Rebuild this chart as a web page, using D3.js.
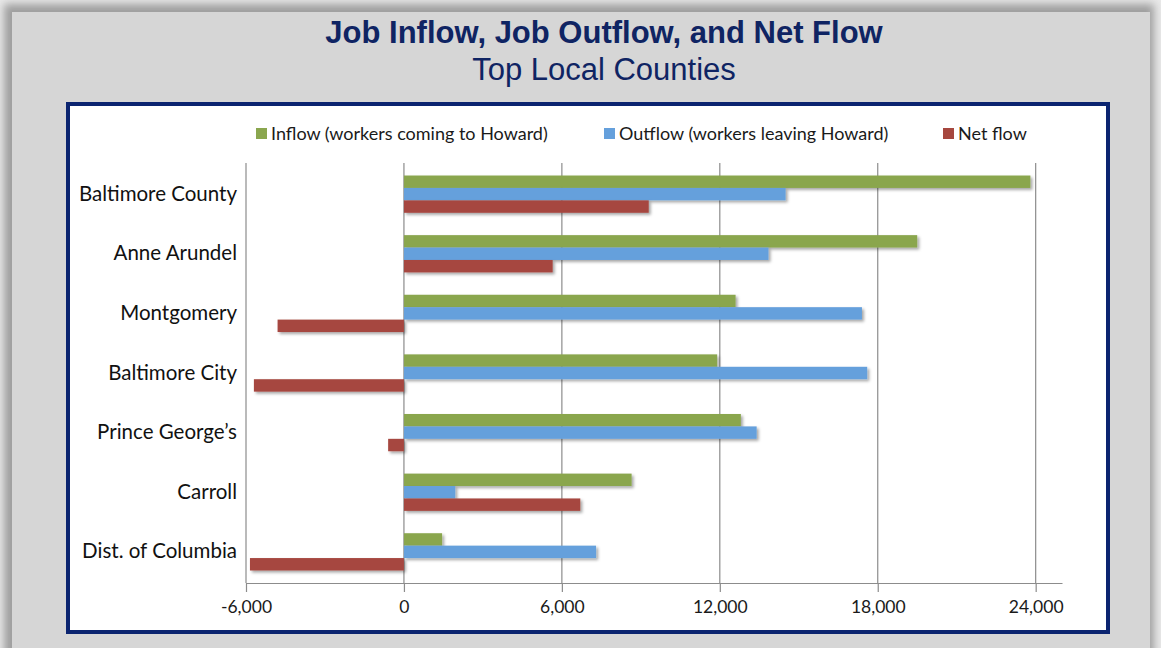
<!DOCTYPE html>
<html lang="en">
<head>
	<meta charset="UTF-8">
	<title>Job Inflow, Job Outflow, and Net Flow</title>
	<style>
		body { margin: 0; background: #e9e9e9; }
		svg { display: block; }
	</style>
</head>
<body>
	<script src="https://d3js.org/d3.v7.min.js"></script>
	<script type="text/javascript">
		var width = 1161;
		var height = 648;

		// data
		var categories = ["Baltimore County", "Anne Arundel", "Montgomery", "Baltimore City", "Prince George\u2019s", "Carroll", "Dist. of Columbia"];
		var inflow  = [23800, 19500, 12600, 11900, 12800, 8650, 1450];
		var outflow = [14500, 13850, 17400, 17600, 13400, 1950, 7300];
		var netflow = [9300, 5650, -4800, -5700, -600, 6700, -5850];
		var seriesNames = ["Inflow (workers coming to Howard)", "Outflow (workers leaving Howard)", "Net flow"];
		var seriesColors = ["#8aa64e", "#65a0dc", "#a6473f"];
		var tickValues = [-6000, 0, 6000, 12000, 18000, 24000];

		var series = [inflow, outflow, netflow];

		var svg = d3.select("body").append("svg").attr("width", width).attr("height", height);

		var defs = svg.append("defs");
		defs.append("filter").attr("id", "panelShadow")
			.attr("x", "-5%").attr("y", "-5%").attr("width", "110%").attr("height", "110%")
			.append("feGaussianBlur").attr("stdDeviation", 4);
		var barShadow = defs.append("filter").attr("id", "barShadow")
			.attr("x", "-10%").attr("y", "-30%").attr("width", "130%").attr("height", "190%");
		barShadow.append("feDropShadow")
			.attr("dx", 2).attr("dy", 2).attr("stdDeviation", 1.5)
			.attr("flood-color", "#000").attr("flood-opacity", 0.35);

		// grey panel with its shadow
		svg.append("rect").attr("x", 4).attr("y", 4).attr("width", 1150).attr("height", 670)
			.attr("fill", "#9e9e9e").attr("filter", "url(#panelShadow)");
		svg.append("rect").attr("x", 12).attr("y", 12).attr("width", 1138).attr("height", 660)
			.attr("fill", "#d6d6d6");

		// titles
		svg.append("text")
			.attr("x", 604).attr("y", 43)
			.attr("text-anchor", "middle")
			.attr("font-family", "'Liberation Sans', Arial, sans-serif")
			.attr("font-weight", "bold")
			.attr("font-size", 31)
			.attr("fill", "#0f2463")
			.text("Job Inflow, Job Outflow, and Net Flow");
		svg.append("text")
			.attr("x", 604).attr("y", 80)
			.attr("text-anchor", "middle")
			.attr("font-family", "'Liberation Sans', Arial, sans-serif")
			.attr("font-size", 31)
			.attr("fill", "#0f2463")
			.text("Top Local Counties");

		// chart box
		svg.append("rect").attr("x", 68).attr("y", 104).attr("width", 1040).attr("height", 528)
			.attr("fill", "#fff").attr("stroke", "#0b2470").attr("stroke-width", 4);

		var padding = {left: 246, right: 1062, top: 163, bottom: 583};

		var XScale = d3.scaleLinear().domain([-6000, 25000]).range([padding.left, padding.right]);
		var YScale = d3.scaleBand().domain(categories).range([padding.top, padding.bottom])
			.paddingInner(0.375).paddingOuter(0.21);
		var SScale = d3.scaleBand().domain(d3.range(series.length)).range([0, YScale.bandwidth()]);

		var font = "Lato, 'Open Sans', sans-serif";

		// vertical gridlines
		svg.append("g")
			.selectAll("line")
			.data(tickValues)
			.enter()
			.append("line")
			.attr("x1", function(d){ return XScale(d); })
			.attr("x2", function(d){ return XScale(d); })
			.attr("y1", padding.top)
			.attr("y2", padding.bottom)
			.attr("stroke", "#8c8c8c")
			.attr("stroke-width", 1.2);

		// bars
		var groups = svg.append("g")
			.selectAll("g")
			.data(series)
			.enter()
			.append("g")
			.attr("fill", function(d, i){ return seriesColors[i]; })
			.attr("filter", "url(#barShadow)");

		groups.each(function(values, si){
			d3.select(this).selectAll("rect")
				.data(values)
				.enter()
				.append("rect")
				.attr("x", function(d){ return XScale(Math.min(0, d)); })
				.attr("y", function(d, i){ return YScale(categories[i]) + SScale(si); })
				.attr("width", function(d){ return Math.abs(XScale(d) - XScale(0)); })
				.attr("height", SScale.bandwidth());
		});

		// x axis along the bottom
		var fmt = d3.format(",");
		var XAxis = d3.axisBottom(XScale)
			.tickValues(tickValues)
			.tickSize(9)
			.tickSizeOuter(0)
			.tickPadding(9)
			.tickFormat(function(d){ return fmt(d).replace("\u2212", "-"); });

		var xg = svg.append("g")
			.attr("transform", "translate(0," + padding.bottom + ")")
			.call(XAxis);
		xg.select(".domain").attr("stroke", "#8c8c8c").attr("stroke-width", 1.2);
		xg.selectAll(".tick line").attr("stroke", "#8c8c8c").attr("stroke-width", 1.2);
		xg.selectAll(".tick text")
			.attr("font-family", font)
			.attr("font-size", 17.5)
			.attr("fill", "#1a1a1a");

		// category labels
		var YAxis = d3.axisLeft(YScale).tickSize(0).tickPadding(9);
		var yg = svg.append("g")
			.attr("transform", "translate(" + padding.left + ",0)")
			.call(YAxis);
		yg.select(".domain").remove();
		yg.selectAll(".tick text")
			.attr("font-family", font)
			.attr("font-size", 20.5)
			.attr("fill", "#111");

		// legend
		var legendX = [256, 604, 943];
		var legend = svg.append("g")
			.selectAll("g")
			.data(seriesNames)
			.enter()
			.append("g")
			.attr("transform", function(d, i){ return "translate(" + legendX[i] + ",128)"; });
		legend.append("rect")
			.attr("width", 11).attr("height", 11)
			.attr("fill", function(d, i){ return seriesColors[i]; });
		legend.append("text")
			.attr("x", 15).attr("y", 6)
			.attr("dy", "0.35em")
			.attr("font-family", font)
			.attr("font-size", 18)
			.attr("fill", "#1a1a1a")
			.text(function(d){ return d; });
	</script>
</body>
</html>
